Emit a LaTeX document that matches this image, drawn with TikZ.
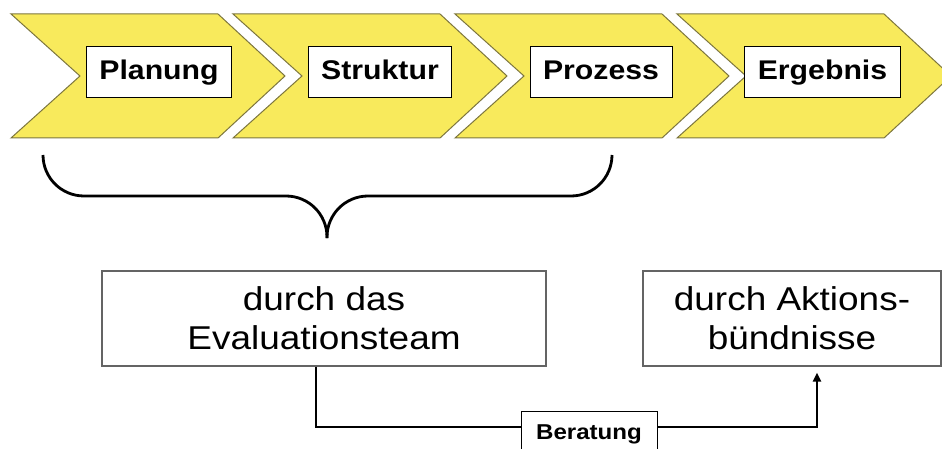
\documentclass[tikz,border=0pt]{standalone}
\usepackage{xcolor}
\usepackage{fontspec}
\setmainfont{Liberation Sans}[FakeStretch=1.12]
\usepackage{tikz}
\usetikzlibrary{positioning, arrows.meta, calc}

\definecolor{chevfill}{RGB}{248,234,92}
\definecolor{chevline}{RGB}{125,118,62}
\definecolor{boxline}{RGB}{100,100,100}

\begin{document}
\begin{tikzpicture}[x=1pt, y=-1pt]

	\tikzstyle{chev}=[draw=chevline, fill=chevfill, line width=1pt]
	\tikzstyle{stage}=[draw=black, fill=white, line width=1pt, inner xsep=13pt, inner ysep=0pt, text height=20pt, text depth=6pt, minimum height=51pt, font=\fontsize{27}{32}\selectfont\bfseries]
	\tikzstyle{actor}=[draw=boxline, fill=white, line width=1.3pt, minimum height=95pt, align=center, font=\fontsize{33}{39}\selectfont]
	\tikzstyle{brace}=[line width=2.8pt, rounded corners=41pt]
	\tikzstyle{conn}=[line width=2.2pt]

	\useasboundingbox (0,0) rectangle (942,449);


	\draw [chev] (11,14) -- (218,14) -- (285,76) -- (218,138) -- (11,138) -- (80,76) -- cycle;
	\draw [chev] (233,14) -- (440,14) -- (507,76) -- (440,138) -- (233,138) -- (302,76) -- cycle;
	\draw [chev] (455,14) -- (662,14) -- (729,76) -- (662,138) -- (455,138) -- (524,76) -- cycle;
	\draw [chev] (677,14) -- (884,14) -- (951,76) -- (884,138) -- (677,138) -- (746,76) -- cycle;

	\node (plan) at (159,72.5) [stage] {Planung};
	\node (struk) at (380,72.5) [stage] {Struktur};
	\node (proz) at (601,72.5) [stage] {Prozess};
	\node (ergeb) at (822.5,72.5) [stage] {Ergebnis};


	\draw [brace] (43,155) |- (327,196) -- (327,238);
	\draw [brace] (612,155) |- (327,196) -- (327,238);


	\node (team) at (324,318.5) [actor, minimum width=444pt] {durch das\\Evaluationsteam};
	\node (allianz) at (792,318.5) [actor, minimum width=298pt] {durch Aktions-\\bündnisse};

	\node (berat) at (589,434) [draw=black, fill=white, line width=1pt, minimum width=136pt, minimum height=46pt, font=\fontsize{21.5}{26}\selectfont\bfseries] {Beratung};

	\draw [conn] ([xshift=-8pt]team.south) |- ([yshift=7pt]berat.west);
	\draw [conn, -{Triangle[length=9pt, width=8pt]}] ([yshift=7pt]berat.east) -| ([xshift=25pt, yshift=-6pt]allianz.south);

\end{tikzpicture}
\end{document}
